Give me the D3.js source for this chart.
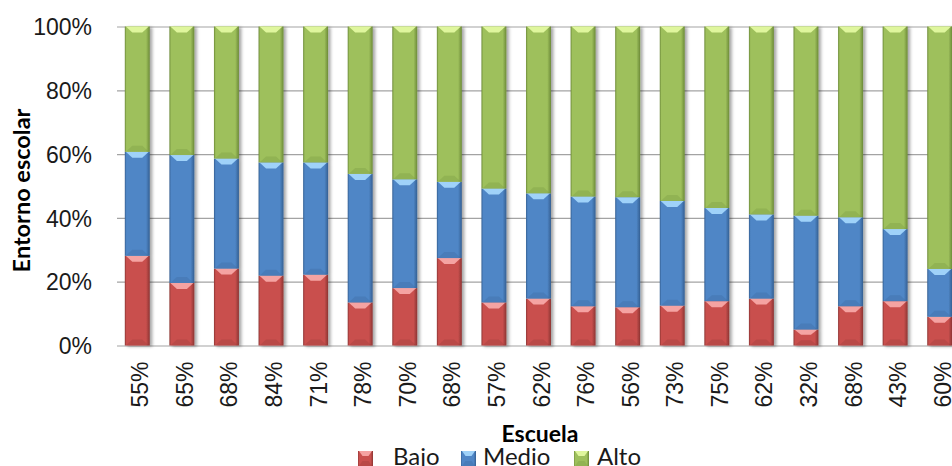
<!DOCTYPE html>
<html>
<head>
<meta charset="utf-8">
<script src="https://cdn.jsdelivr.net/npm/d3@7/dist/d3.min.js"></script>
<style>
  html, body { margin: 0; padding: 0; background: #fff; }
  svg { display: block; font-family: Lato, "Open Sans", sans-serif; }
</style>
</head>
<body>
<svg id="chart" width="952" height="466"></svg>
<script>
// School labels along the x axis (some repeat, so bars are keyed by index)
const categories = ["55%","65%","68%","84%","71%","78%","70%","68%","57%","62%",
                    "76%","56%","73%","75%","62%","32%","68%","43%","60%"];
// Share of each level of "Entorno escolar" per school (percent)
const bajo  = [28.1,19.6,24.1,21.9,22.2,13.5,18.0,27.4,13.5,14.7,12.3,12.0,12.5,13.9,14.7, 5.0,12.3,13.9, 9.0];
const medio = [32.6,40.1,34.5,35.5,35.2,40.3,34.1,23.9,35.7,33.0,34.4,34.5,32.8,29.2,26.4,35.7,27.9,22.6,15.0];
const alto  = [39.3,40.3,41.4,42.6,42.6,46.2,47.9,48.7,50.8,52.3,53.3,53.5,54.7,56.9,58.9,59.3,59.8,63.5,76.0];
const yTicks = [0, 0.2, 0.4, 0.6, 0.8, 1];
const seriesNames = ["Bajo", "Medio", "Alto"];

const palette = {
  Bajo:  { base: "#c9504e", light: "#f8a8a6", dark: "#8c3432" },
  Medio: { base: "#4f86c6", light: "#a3d6fc", dark: "#345f92" },
  Alto:  { base: "#9ec05c", light: "#e3f9a0", dark: "#6c8a38" }
};

const rows = categories.map((c, i) => ({ i, Bajo: bajo[i], Medio: medio[i], Alto: alto[i] }));
const stacked = d3.stack().keys(seriesNames).offset(d3.stackOffsetExpand)(rows);

const svg = d3.select("#chart");
const W = 952;
const plotLeft = 117;

const x = d3.scaleBand()
  .domain(d3.range(categories.length))
  .range([115, 962])
  .paddingInner(0.44)
  .paddingOuter(0.22);
const y = d3.scaleLinear().domain([0, 1]).range([345.5, 26.5]);

// ---- defs: side shading gradients and bar shadow ----
const defs = svg.append("defs");
seriesNames.forEach(k => {
  const p = palette[k];
  const g = defs.append("linearGradient").attr("id", "grad-" + k)
    .attr("x1", 0).attr("x2", 1).attr("y1", 0).attr("y2", 0);
  g.append("stop").attr("offset", 0).attr("stop-color", p.dark);
  g.append("stop").attr("offset", 0.07).attr("stop-color", p.base);
  g.append("stop").attr("offset", 0.85).attr("stop-color", p.base);
  g.append("stop").attr("offset", 1).attr("stop-color", p.dark);
});
const f = defs.append("filter").attr("id", "shadow")
  .attr("x", "-30%").attr("y", "-10%").attr("width", "160%").attr("height", "130%");
f.append("feDropShadow").attr("dx", 2.5).attr("dy", 1).attr("stdDeviation", 1.6)
  .attr("flood-color", "#000").attr("flood-opacity", 0.35);

// ---- gridlines + y tick labels ----
const yAxis = svg.append("g")
  .attr("transform", `translate(${plotLeft},0)`)
  .call(d3.axisLeft(y).tickValues(yTicks).tickFormat(d3.format(".0%"))
    .tickSize(-(W - plotLeft)).tickPadding(25));
yAxis.select(".domain").remove();
yAxis.selectAll(".tick line").attr("stroke", "#a3a3a3").attr("stroke-width", 1.2);
yAxis.selectAll(".tick text")
  .attr("fill", "#1a1a1a")
  .style("font-size", "23px")
  .attr("dy", "0.36em");

// ---- bevelled bar segments ----
function bevelSegment(sel, key, x0, w, yTop, yBot) {
  const p = palette[key];
  const h = yBot - yTop;
  const bh = Math.min(6, h / 3);
  const inset = w * 0.3;
  sel.append("rect")
    .attr("x", x0).attr("y", yTop).attr("width", w).attr("height", h)
    .attr("fill", `url(#grad-${key})`);
  // light chevron along the top edge
  sel.append("polygon")
    .attr("points", [[x0 + 1, yTop], [x0 + w - 1, yTop], [x0 + w - inset, yTop + bh], [x0 + inset, yTop + bh]].join(" "))
    .attr("fill", p.light).attr("opacity", 0.95);
  // darker chevron along the bottom edge
  sel.append("polygon")
    .attr("points", [[x0 + 1, yBot], [x0 + w - 1, yBot], [x0 + w - inset, yBot - bh], [x0 + inset, yBot - bh]].join(" "))
    .attr("fill", p.dark).attr("opacity", 0.25);
}

const barsLayer = svg.append("g");
categories.forEach((c, i) => {
  const g = barsLayer.append("g").attr("filter", "url(#shadow)");
  stacked.forEach(layer => {
    const d = layer[i];
    bevelSegment(g, layer.key, x(i), x.bandwidth(), y(d[1]), y(d[0]));
  });
});

// ---- x tick labels (rotated) ----
const xAxis = svg.append("g")
  .attr("transform", `translate(0,${y(0)})`)
  .call(d3.axisBottom(x).tickFormat(i => categories[i]).tickSize(0));
xAxis.select(".domain").remove();
xAxis.selectAll(".tick text")
  .attr("transform", "rotate(-90)")
  .attr("text-anchor", "end")
  .attr("x", -16)
  .attr("y", 11)
  .attr("dy", 0)
  .attr("fill", "#1a1a1a")
  .style("font-size", "23px");

// ---- axis titles ----
svg.append("text")
  .attr("transform", `translate(30,190.5) rotate(-90)`)
  .attr("text-anchor", "middle")
  .style("font-size", "23.5px").style("font-weight", 700)
  .attr("fill", "#000")
  .text("Entorno escolar");

svg.append("text")
  .attr("x", 540).attr("y", 442)
  .attr("text-anchor", "middle")
  .style("font-size", "23px").style("font-weight", 700)
  .attr("fill", "#000")
  .text("Escuela");

// ---- legend ----
const legendSwatchX = [358, 461, 574];
const legendTextX = [393, 483, 597];
const legend = svg.append("g");
seriesNames.forEach((k, j) => {
  const g = legend.append("g");
  bevelSegment(g, k, legendSwatchX[j], 15, 451, 466);
  g.append("text")
    .attr("x", legendTextX[j]).attr("y", 465)
    .style("font-size", "24px")
    .attr("fill", "#1a1a1a")
    .text(k);
});
</script>
</body>
</html>
